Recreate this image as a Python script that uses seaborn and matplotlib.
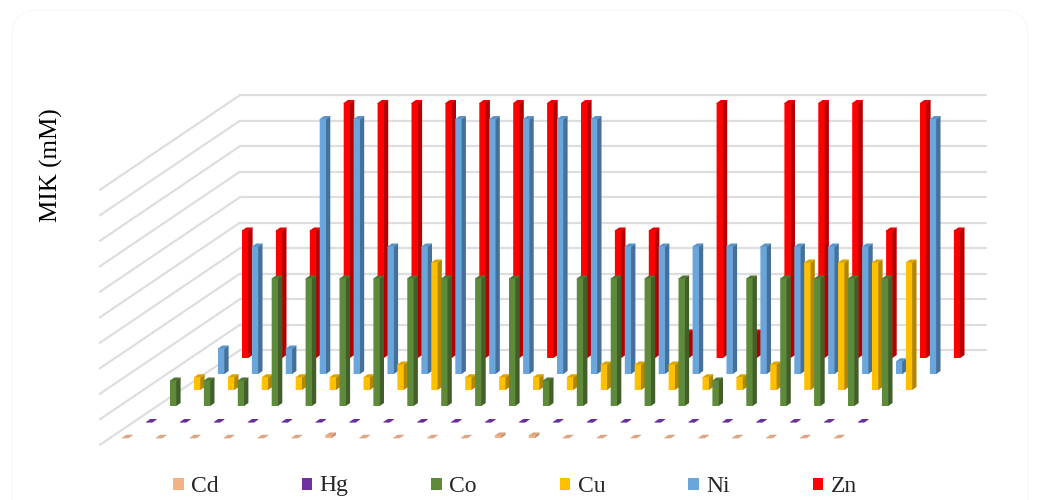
# Stacked-depth bar chart of MIK values, drawn one seaborn axes per metal

import pandas as pd
import matplotlib
matplotlib.use('Agg')
import matplotlib.pyplot as plt
import seaborn as sns
from matplotlib.lines import Line2D
from matplotlib.patches import FancyBboxPatch, Patch, Polygon
from matplotlib.transforms import IdentityTransform

samples = list(range(1, 23))

cd = [0.01, 0.01, 0.01, 0.01, 0.01, 0.01, 0.1, 0.01, 0.01, 0.01, 0.01,
      0.1, 0.1, 0.01, 0.01, 0.01, 0.01, 0.01, 0.01, 0.01, 0.01, 0.01]
hg = [0] * 22
co = [1, 1, 1, 5, 5, 5, 5, 5, 5, 5, 5, 1, 5, 5, 5, 5, 1, 5, 5, 5, 5, 5]
cu = [0.5, 0.5, 0.5, 0.5, 0.5, 0.5, 1, 5, 0.5, 0.5, 0.5,
      0.5, 1, 1, 1, 0.5, 0.5, 1, 5, 5, 5, 5]
ni = [1, 5, 1, 10, 10, 5, 5, 10, 10, 10, 10, 10, 5, 5, 5, 5, 5, 5, 5, 5, 0.5, 10]
zn = [5, 5, 5, 10, 10, 10, 10, 10, 10, 10, 10, 5, 5, 1, 10, 1, 10, 10, 10, 5, 10, 5]

# name, values, front, side and top colours (front series first)
metals = [('Cd', cd, '#F4B183', '#C08A66', '#DBA583'),
          ('Hg', hg, '#7030A0', '#552478', '#6A2E9A'),
          ('Co', co, '#5E8B3B', '#425F2A', '#4E7531'),
          ('Cu', cu, '#FFC000', '#B38600', '#D9A300'),
          ('Ni', ni, '#6AA5DC', '#44709A', '#5B94C8'),
          ('Zn', zn, '#FF0000', '#B30000', '#E60000')]

W, H = 1040, 500
grid_col = '#DEDEDE'

sns.set_theme(style = 'white')
plt.rcParams['font.family'] = ['Liberation Serif', 'DejaVu Serif']

fig = plt.figure(figsize = (W / 100, H / 100), dpi = 100, facecolor = 'white')

# Faint rounded frame of the chart area
fig.add_artist(FancyBboxPatch((12, -30), W - 24, H + 20,
                              boxstyle = 'round,pad=0,rounding_size=26',
                              transform = IdentityTransform(),
                              facecolor = 'none', edgecolor = '#F8F8F8', lw = 1))

# Plot box of the front series, in pixels
box_left, box_base = 108.2, 438
box_w, box_h = 22 * 33.9, 255
step_x, step_y = 24, 16


def depth_axes(depth, zorder):
    # Axes pushed back along the floor by `depth` series
    x0 = box_left + step_x * depth
    y0 = H - box_base + step_y * depth
    ax = fig.add_axes([x0 / W, y0 / H, box_w / W, box_h / H], zorder = zorder)
    ax.patch.set_alpha(0)
    return ax


# Back wall and left wall
wall = depth_axes(5.5, 0)
wall.set_xlim(-0.5, 21.5)
wall.set_ylim(0, 10)
for level in range(0, 11):
    wall.axhline(level, color = grid_col, lw = 1.6, clip_on = False)
    x_end, y_end = wall.transData.transform((-0.5, level))
    fig.add_artist(Line2D([x_end, x_end - step_x * 5.85], [y_end, y_end - step_y * 5.93],
                          transform = IdentityTransform(), color = grid_col, lw = 1.6))
wall.axis('off')

# One axes per metal, back series first so the front ones cover them
for depth, (name, values, front, side, top) in reversed(list(enumerate(metals))):
    chart_df = pd.DataFrame({'sample': samples, 'value': values})
    ax = depth_axes(depth, 10 - depth)
    sns.barplot(ax = ax,
                data = chart_df,
                x = 'sample',
                y = 'value',
                color = front,
                saturation = 1,
                width = 0.186,
                linewidth = 0)
    ax.set_xlim(-0.5, 21.5)
    ax.set_ylim(0, 10)
    ax.axis('off')

    # Side and top faces of every bar, tucked slightly under the front face
    dx, dy = 4.3, 3
    for bar in list(ax.patches):
        bar.set_snap(False)
        bar.set_zorder(2)
        x0, x1 = ax.transData.transform((bar.get_x(), 0))[0], \
            ax.transData.transform((bar.get_x() + bar.get_width(), 0))[0]
        y0 = ax.transData.transform((0, 0))[1]
        y1 = ax.transData.transform((0, bar.get_height()))[1]
        ax.add_patch(Polygon([(x1 - 0.6, y0), (x1, y0), (x1 + dx, y0 + dy), (x1 + dx, y1 + dy),
                              (x1, y1), (x1 - 0.6, y1)],
                             transform = IdentityTransform(), facecolor = side,
                             edgecolor = 'none', clip_on = False, zorder = 1))
        ax.add_patch(Polygon([(x0, y1 - 0.6), (x1, y1 - 0.6), (x1 + dx, y1 + dy - 0.6),
                              (x1 + dx, y1 + dy), (x0 + dx, y1 + dy), (x0, y1)],
                             transform = IdentityTransform(), facecolor = top,
                             edgecolor = 'none', clip_on = False, zorder = 1))

fig.text(51 / W, 1 - 165.5 / H, 'MIK (mM)', rotation = 90, ha = 'center', va = 'center',
         fontsize = 18, color = 'black')

handles = [Patch(facecolor = m[2], edgecolor = 'none', label = m[0]) for m in metals]
leg = fig.legend(handles = handles,
                 loc = 'center',
                 bbox_to_anchor = (515 / W, 1 - 487 / H),
                 ncol = 6,
                 frameon = False,
                 fontsize = 17,
                 handlelength = 0.45,
                 handleheight = 0.45,
                 handletextpad = 0.32,
                 columnspacing = 3.5)

# Hg sits low because of its descender, lift it back on the shared baseline
leg.get_texts()[1].set_y(2)

fig.savefig('out.png', dpi = 100)
plt.close()
